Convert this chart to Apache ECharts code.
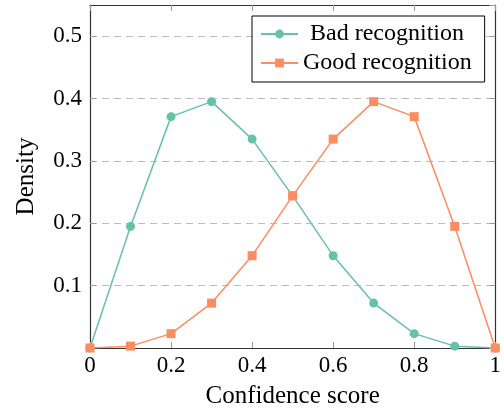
<!DOCTYPE html>
<html>
<head>
<meta charset="utf-8">
<script src="https://cdn.jsdelivr.net/npm/echarts@6/dist/echarts.min.js"></script>
<style>
html,body{margin:0;padding:0;background:#fff;}
#chart{width:504px;height:414px;}
</style>
</head>
<body>
<div id="chart"></div>
<script>
var xValues = [0, 0.1, 0.2, 0.3, 0.4, 0.5, 0.6, 0.7, 0.8, 0.9, 1.0];
var badRecognition = [0, 0.195, 0.371, 0.395, 0.335, 0.244, 0.148, 0.072, 0.023, 0.003, 0];
var goodRecognition = [0, 0.003, 0.023, 0.072, 0.148, 0.244, 0.335, 0.395, 0.371, 0.195, 0];
var seriesNames = ['Bad recognition', 'Good recognition'];
var xTitle = 'Confidence score';
var yTitle = 'Density';

function pairs(xs, ys) { return xs.map(function (x, i) { return [x, ys[i]]; }); }

var FONT = 'Liberation Serif';
var chart = echarts.init(document.getElementById('chart'), null, {renderer: 'canvas'});
var tickStyle = {show: true, inside: true, length: 6, lineStyle: {color: '#9a9a9a', width: 1}};
var axisLineStyle = {show: true, onZero: false, lineStyle: {color: '#333', width: 1.2}};
chart.setOption({
  backgroundColor: '#fff',
  animation: false,
  grid: {left: 90, top: 5, width: 414, height: 345, containLabel: false},
  legend: {
    orient: 'vertical',
    left: 252, top: 16,
    padding: [5, 13, 6, 8],
    itemGap: 3,
    itemWidth: 37, itemHeight: 11,
    borderColor: '#000', borderWidth: 1,
    backgroundColor: '#fff',
    data: seriesNames,
    formatter: function (name) { return name === seriesNames[0] ? '{p|}' + name : name; },
    textStyle: {fontFamily: FONT, fontSize: 24, color: '#000', lineHeight: 26,
      rich: {p: {width: 7}}}
  },
  xAxis: [{
    type: 'value', min: 0, max: 1, interval: 0.2, position: 'bottom',
    name: xTitle, nameLocation: 'middle', nameGap: 36,
    nameTextStyle: {fontFamily: FONT, fontSize: 25, color: '#000'},
    axisLine: axisLineStyle, axisTick: tickStyle,
    axisLabel: {fontFamily: FONT, fontSize: 23, color: '#000', margin: 6},
    splitLine: {show: false}
  }, {
    type: 'value', min: 0, max: 1, interval: 0.2, position: 'top',
    axisLine: axisLineStyle, axisTick: tickStyle,
    axisLabel: {show: false}, splitLine: {show: false}
  }],
  yAxis: [{
    type: 'value', min: 0, max: 0.55, interval: 0.1, position: 'left',
    name: yTitle, nameLocation: 'middle', nameGap: 51,
    nameTextStyle: {fontFamily: FONT, fontSize: 25, color: '#000'},
    axisLine: axisLineStyle, axisTick: tickStyle,
    axisLabel: {fontFamily: FONT, fontSize: 23, color: '#000', margin: 8,
      showMinLabel: false, showMaxLabel: false},
    splitLine: {show: true, lineStyle: {color: '#bdbdbd', type: [7, 5], width: 1}}
  }, {
    type: 'value', min: 0, max: 0.55, interval: 0.1, position: 'right',
    axisLine: axisLineStyle, axisTick: tickStyle,
    axisLabel: {show: false}, splitLine: {show: false}
  }],
  series: [{
    name: seriesNames[0], type: 'line', data: pairs(xValues, badRecognition),
    symbol: 'circle', symbolSize: 9, showSymbol: true,
    lineStyle: {color: '#66c2a5', width: 1.5}, itemStyle: {color: '#66c2a5'},
    z: 3
  }, {
    name: seriesNames[1], type: 'line', data: pairs(xValues, goodRecognition),
    symbol: 'rect', symbolSize: 9, showSymbol: true,
    lineStyle: {color: '#fc8d62', width: 1.5}, itemStyle: {color: '#fc8d62'},
    z: 4
  }]
});
</script>
</body>
</html>
